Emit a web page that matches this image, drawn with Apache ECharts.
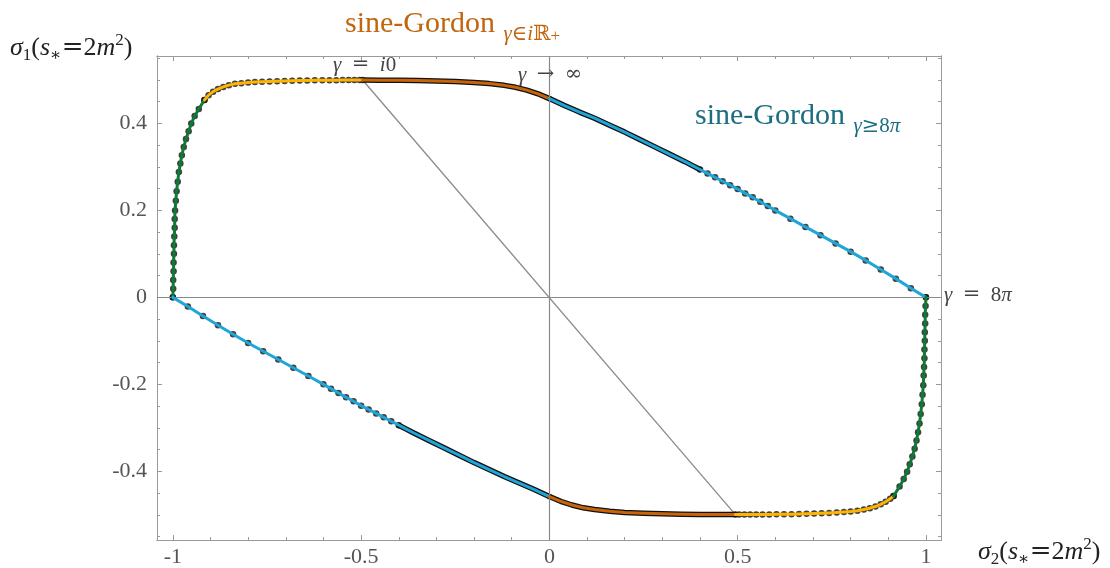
<!DOCTYPE html>
<html>
<head>
<meta charset="utf-8">
<script src="https://cdn.jsdelivr.net/npm/echarts@6/dist/echarts.min.js"></script>
<style>
  html, body { margin: 0; padding: 0; background: #ffffff; }
  #chart { width: 1110px; height: 568px; }
</style>
</head>
<body>
<div id="chart"></div>
<script>
// Boundary of the (sigma2, sigma1) region at s* = 2 m^2, traced as [sigma2, sigma1] points.

// Upper half, from (-1, 0) over the top to (1, 0)
const greenUpper = [
  [-1.000, 0.000], [-0.999, 0.020], [-0.999, 0.040], [-0.998, 0.060], [-0.998, 0.080],
  [-0.997, 0.100], [-0.997, 0.120], [-0.996, 0.140], [-0.995, 0.160], [-0.995, 0.180],
  [-0.994, 0.200], [-0.992, 0.222], [-0.990, 0.244], [-0.987, 0.266], [-0.984, 0.288],
  [-0.980, 0.308], [-0.976, 0.327], [-0.971, 0.346], [-0.965, 0.364], [-0.958, 0.382],
  [-0.951, 0.400], [-0.942, 0.417], [-0.931, 0.433], [-0.916, 0.454]
];
const yellowUpper = [
  [-0.916, 0.454], [-0.905, 0.465], [-0.893, 0.473], [-0.880, 0.479], [-0.866, 0.484],
  [-0.851, 0.488], [-0.835, 0.491], [-0.818, 0.4925], [-0.800, 0.494], [-0.782, 0.495],
  [-0.763, 0.496], [-0.743, 0.4966], [-0.723, 0.497], [-0.703, 0.4975], [-0.683, 0.498],
  [-0.663, 0.4984], [-0.643, 0.4987], [-0.623, 0.499], [-0.603, 0.4992], [-0.584, 0.4994],
  [-0.566, 0.4995], [-0.549, 0.4996], [-0.533, 0.4997], [-0.518, 0.4997], [-0.504, 0.4997],
  [-0.496, 0.4997]
];
const orangeUpper = [
  [-0.496, 0.4997], [-0.450, 0.4994], [-0.400, 0.4990], [-0.350, 0.4984], [-0.300, 0.4975],
  [-0.250, 0.4962], [-0.200, 0.4942], [-0.160, 0.4915], [-0.120, 0.4875], [-0.090, 0.4830],
  [-0.060, 0.4765], [-0.030, 0.4680], [0.000, 0.4570]
];
const blueUpper = [
  [0.000, 0.457], [0.040, 0.441], [0.080, 0.426], [0.120, 0.412], [0.160, 0.396],
  [0.200, 0.380], [0.240, 0.363], [0.280, 0.346], [0.320, 0.329], [0.360, 0.312],
  [0.380, 0.303], [0.400, 0.294], [0.420, 0.285], [0.440, 0.276], [0.460, 0.267],
  [0.480, 0.258], [0.500, 0.249], [0.520, 0.239], [0.540, 0.230], [0.560, 0.220],
  [0.580, 0.210], [0.600, 0.200], [0.640, 0.181], [0.680, 0.162], [0.720, 0.143],
  [0.760, 0.124], [0.800, 0.105], [0.840, 0.085], [0.880, 0.064], [0.920, 0.043],
  [0.960, 0.021], [1.000, 0.000]
];

// Lower half, from (-1, 0) under the bottom to (1, 0)
const blueLower = [
  [-1.000, 0.000], [-0.960, -0.021], [-0.920, -0.043], [-0.880, -0.064], [-0.840, -0.085],
  [-0.800, -0.105], [-0.760, -0.124], [-0.720, -0.143], [-0.680, -0.162], [-0.640, -0.181],
  [-0.600, -0.200], [-0.580, -0.210], [-0.560, -0.220], [-0.540, -0.230], [-0.520, -0.239],
  [-0.500, -0.249], [-0.480, -0.258], [-0.460, -0.267], [-0.440, -0.276], [-0.420, -0.285],
  [-0.400, -0.294], [-0.380, -0.303], [-0.360, -0.312], [-0.320, -0.329], [-0.280, -0.346],
  [-0.240, -0.363], [-0.200, -0.380], [-0.160, -0.396], [-0.120, -0.412], [-0.080, -0.427],
  [-0.040, -0.442], [0.000, -0.458]
];
const orangeLower = [
  [0.000, -0.4580], [0.030, -0.4690], [0.060, -0.4775], [0.090, -0.4840], [0.120, -0.4880],
  [0.160, -0.4920], [0.200, -0.4945], [0.250, -0.4965], [0.300, -0.4978], [0.350, -0.4986],
  [0.400, -0.4991], [0.450, -0.4994], [0.494, -0.4996]
];
const yellowLower = [
  [0.494, -0.4996], [0.504, -0.4996], [0.518, -0.4995], [0.533, -0.4995], [0.549, -0.4994],
  [0.566, -0.4993], [0.584, -0.4992], [0.603, -0.4990], [0.623, -0.4988], [0.643, -0.4985],
  [0.663, -0.4982], [0.683, -0.4978], [0.703, -0.4973], [0.723, -0.4967], [0.743, -0.4960],
  [0.763, -0.4950], [0.782, -0.4938], [0.800, -0.4924], [0.818, -0.4905], [0.835, -0.4880],
  [0.851, -0.4848], [0.866, -0.4810], [0.880, -0.4760], [0.893, -0.4700], [0.905, -0.4630],
  [0.914, -0.4570]
];
const greenLower = [
  [0.914, -0.457], [0.930, -0.435], [0.941, -0.418], [0.950, -0.401], [0.957, -0.384],
  [0.964, -0.366], [0.970, -0.348], [0.975, -0.329], [0.979, -0.310], [0.983, -0.290],
  [0.986, -0.268], [0.989, -0.246], [0.991, -0.224], [0.993, -0.202], [0.994, -0.180],
  [0.995, -0.160], [0.996, -0.140], [0.996, -0.120], [0.997, -0.100], [0.997, -0.080],
  [0.998, -0.060], [0.998, -0.040], [0.999, -0.020], [1.000, 0.000]
];

// Reference diagonal through the origin
const diagonal = [[-0.496, 0.4997], [0.494, -0.4996]];

// Axis ticks and labels
const xLabelValues = [-1, -0.5, 0, 0.5, 1];
const xMinorValues = [-1, -0.9, -0.8, -0.7, -0.6, -0.5, -0.4, -0.3, -0.2, -0.1, 0,
  0.1, 0.2, 0.3, 0.4, 0.5, 0.6, 0.7, 0.8, 0.9, 1];
const yLabelValues = [-0.4, -0.2, 0, 0.2, 0.4];
const yMinorValues = [-0.55, -0.5, -0.45, -0.4, -0.35, -0.3, -0.25, -0.2, -0.15, -0.1, -0.05, 0,
  0.05, 0.1, 0.15, 0.2, 0.25, 0.3, 0.35, 0.4, 0.45, 0.5, 0.55];

const X_MIN = -1.042, X_MAX = 1.040;
const Y_MIN = -0.558, Y_MAX = 0.555;

const SERIF = "'Liberation Serif', 'DejaVu Serif', serif";
const WIDE = "'DejaVu Serif', serif";
const FRAME = '#9a9a9a';
const GREEN = '#0f7a35';
const YELLOW = '#ffb400';
const ORANGE = '#c8640a';
const BLUE = '#1fa5d6';
const ORANGE_TEXT = '#c2650f';
const TEAL_TEXT = '#1a6e80';

function fmt(v) { return String(+(+v).toFixed(2)); }

function xAxisDef(position, ticks, len, labels) {
  return {
    type: 'value', position: position, min: X_MIN, max: X_MAX,
    axisLine: { show: true, onZero: false, lineStyle: { color: FRAME, width: 1 } },
    axisTick: { show: true, inside: true, length: len, customValues: ticks,
      lineStyle: { color: FRAME, width: 1 } },
    axisLabel: labels ? {
      show: true, customValues: labels, margin: 6, color: '#555',
      fontFamily: SERIF, fontSize: 22, formatter: fmt
    } : { show: false },
    splitLine: { show: false }
  };
}
function yAxisDef(position, ticks, len, labels) {
  return {
    type: 'value', position: position, min: Y_MIN, max: Y_MAX,
    axisLine: { show: true, onZero: false, lineStyle: { color: FRAME, width: 1 } },
    axisTick: { show: true, inside: true, length: len, customValues: ticks,
      lineStyle: { color: FRAME, width: 1 } },
    axisLabel: labels ? {
      show: true, customValues: labels, margin: 10, color: '#555',
      fontFamily: SERIF, fontSize: 22, formatter: fmt
    } : { show: false },
    splitLine: { show: false }
  };
}

// Rich-text styles for the small math labels
function mathRich(size, color, lh, subSize, subLh, supLh) {
  return {
    r: { fontFamily: SERIF, fontSize: size, fill: color, lineHeight: lh },
    eq: { fontFamily: WIDE, fontSize: size, fill: color, lineHeight: lh },
    i: { fontFamily: SERIF, fontSize: size, fill: color, fontStyle: 'italic', lineHeight: lh },
    sub: { fontFamily: SERIF, fontSize: subSize, fill: color, lineHeight: subLh, verticalAlign: 'bottom' },
    subw: { fontFamily: WIDE, fontSize: subSize, fill: color, lineHeight: subLh, verticalAlign: 'bottom' },
    subi: { fontFamily: SERIF, fontSize: subSize, fill: color, fontStyle: 'italic', lineHeight: subLh, verticalAlign: 'bottom' },
    subsub: { fontFamily: SERIF, fontSize: Math.round(subSize * 0.8), fill: color, lineHeight: Math.max(2, subLh - 12), verticalAlign: 'bottom' },
    sup: { fontFamily: SERIF, fontSize: subSize, fill: color, lineHeight: supLh, verticalAlign: 'top' }
  };
}
function mathText(x, y, text, rich) {
  return {
    type: 'text', x: x, y: y, z: 100, silent: true,
    style: { text: text, rich: rich, textAlign: 'left', textVerticalAlign: 'middle' }
  };
}

function colourLine(data, color) {
  return {
    type: 'line', data: data, showSymbol: false, symbol: 'none', z: 5,
    lineStyle: { color: color, width: 3, cap: 'round', join: 'round' },
    animation: false, silent: true
  };
}
function outlineLine(data) {
  return {
    type: 'line', data: data, showSymbol: false, symbol: 'none', z: 3,
    lineStyle: { color: '#111', width: 5.5, cap: 'round', join: 'round' },
    animation: false, silent: true
  };
}

// Individual sample dots; the densely sampled stretches are drawn as a solid outline instead
const dotPoints = [].concat(greenUpper, yellowUpper, blueUpper.slice(11),
  blueLower.slice(0, 21), yellowLower, greenLower);

const chart = echarts.init(document.getElementById('chart'), null, { renderer: 'canvas' });

const option = {
  backgroundColor: '#ffffff',
  animation: false,
  grid: { left: 157, right: 169, top: 56, bottom: 28, containLabel: false },
  xAxis: [
    xAxisDef('bottom', xLabelValues, 5, xLabelValues),
    xAxisDef('bottom', xMinorValues, 3, null),
    xAxisDef('top', xLabelValues, 5, null),
    xAxisDef('top', xMinorValues, 3, null)
  ],
  yAxis: [
    yAxisDef('left', yLabelValues, 5, yLabelValues),
    yAxisDef('left', yMinorValues, 3, null),
    yAxisDef('right', yLabelValues, 5, null),
    yAxisDef('right', yMinorValues, 3, null)
  ],
  series: [
    {
      type: 'line', data: diagonal, showSymbol: false, symbol: 'none', z: 1,
      lineStyle: { color: '#8a8a8a', width: 1.3 }, silent: true,
      markLine: {
        silent: true, symbol: ['none', 'none'], animation: false,
        label: { show: false },
        lineStyle: { color: '#8a8a8a', width: 1.2, type: 'solid' },
        data: [{ xAxis: 0 }, { yAxis: 0 }]
      }
    },
    outlineLine(orangeUpper),
    outlineLine(blueUpper.slice(0, 12)),
    outlineLine(orangeLower),
    outlineLine(blueLower.slice(20)),
    {
      type: 'scatter', data: dotPoints, symbol: 'circle', symbolSize: 6.5, z: 4,
      itemStyle: { color: '#111' }, silent: true
    },
    colourLine(greenUpper, GREEN),
    colourLine(yellowUpper, YELLOW),
    colourLine(orangeUpper, ORANGE),
    colourLine(blueUpper, BLUE),
    colourLine(blueLower, BLUE),
    colourLine(orangeLower, ORANGE),
    colourLine(yellowLower, YELLOW),
    colourLine(greenLower, GREEN)
  ],
  graphic: [
    mathText(10, 48, '{i|σ}{sub|1}{r|(}{i|s}{sub|∗}{eq|=}{r|2}{i|m}{sup|2}{r|)}',
      mathRich(26, '#222', 32, 17, 22, 12)),
    mathText(978, 552, '{i|σ}{sub|2}{r|(}{i|s}{sub|∗}{eq|=}{r|2}{i|m}{sup|2}{r|)}',
      mathRich(26, '#222', 32, 17, 22, 12)),
    mathText(345, 24, '{r|sine-Gordon}{subi|\u2009\u2009γ}{subw|∈}{subi|i}{subw|ℝ}{subsub|+}',
      mathRich(30, ORANGE_TEXT, 42, 21, 16, 16)),
    mathText(695, 116, '{r|sine-Gordon}{subi|\u2009\u2009γ}{subw|≥}{sub|8}{subi|π}',
      mathRich(30, TEAL_TEXT, 42, 21, 16, 16)),
    mathText(333, 65, '{i|γ}{r|\u2002}{eq|=}{r|\u2002}{i|i}{r|0}', mathRich(21, '#444', 26, 14, 20, 12)),
    mathText(518, 75, '{i|γ}{r|\u2002}{eq|→}{r|\u2002}{eq|∞}', mathRich(21, '#444', 26, 14, 20, 12)),
    mathText(944, 295, '{i|γ}{r|\u2002}{eq|=}{r|\u2002}{r|8}{i|π}', mathRich(21, '#444', 26, 14, 20, 12))
  ]
};

chart.setOption(option);
</script>
</body>
</html>
